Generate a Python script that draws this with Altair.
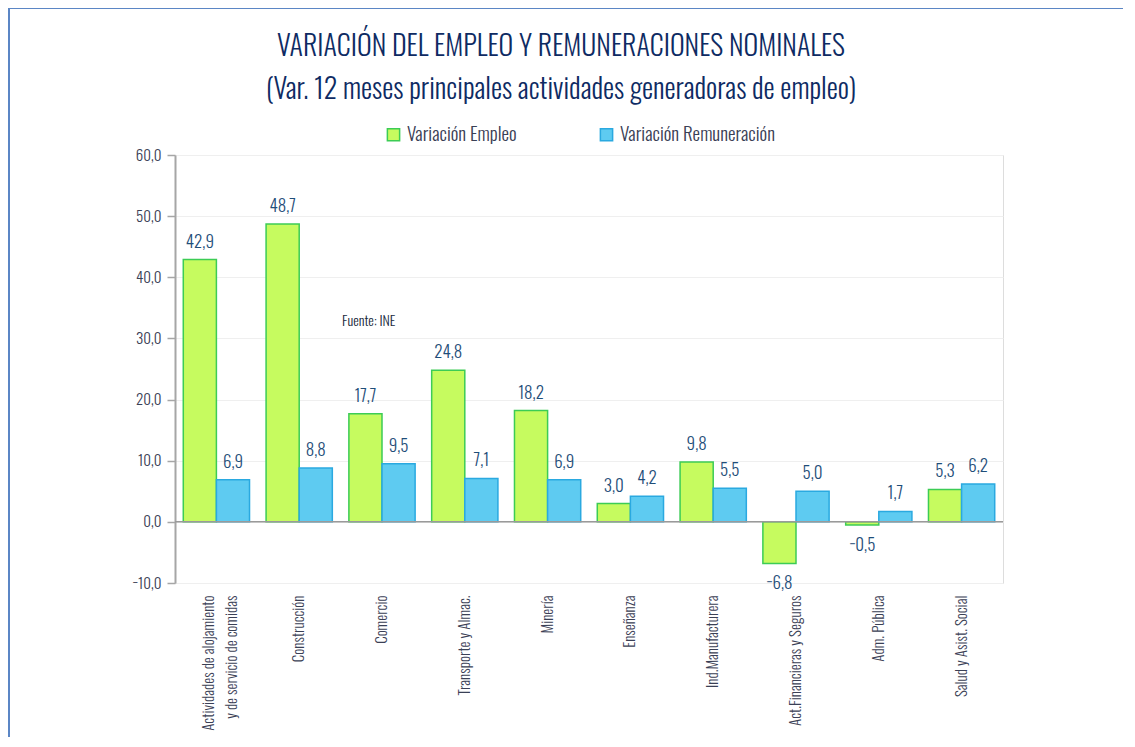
import altair as alt
import pandas as pd

categories = [
    "Actividades de alojamiento|y de servicio de comidas",
    "Construcción",
    "Comercio",
    "Transporte y Almac.",
    "Minería",
    "Enseñanza",
    "Ind.Manufacturera",
    "Act.Financieras y Seguros",
    "Adm. Pública",
    "Salud y Asist. Social",
]
empleo = [42.9, 48.7, 17.7, 24.8, 18.2, 3.0, 9.8, -6.8, -0.5, 5.3]
remuneracion = [6.9, 8.8, 9.5, 7.1, 6.9, 4.2, 5.5, 5.0, 1.7, 6.2]
series = ["Variación Empleo", "Variación Remuneración"]

rows = []
for c, e, r in zip(categories, empleo, remuneracion):
    rows.append({"cat": c, "serie": series[0], "valor": e})
    rows.append({"cat": c, "serie": series[1], "valor": r})
df = pd.DataFrame(rows)

FONT = "Oswald"
FW = 300
W, H = 828, 428

base = alt.Chart(df).transform_calculate(
    lab="replace(format(datum.valor, '.1f'), '.', ',')"
)

xenc = alt.X(
    "cat:N", sort=categories, title=None,
    scale=alt.Scale(paddingInner=0.2, paddingOuter=0.1),
    axis=alt.Axis(labelAngle=270, labelAlign="right", labelBaseline="middle",
                  labelExpr="split(datum.label, '|')", labelFontSize=15,
                  labelFontWeight=FW,
                  labelOffset={"condition": {"test": "indexof(datum.value, '|') >= 0", "value": -7},
                               "value": 0},
                  labelColor="#3a4055", labelFont=FONT, domain=False, ticks=False,
                  labelPadding=12, labelLimit=300, labelLineHeight=23, grid=False),
)
yenc = alt.Y(
    "valor:Q", title=None,
    scale=alt.Scale(domain=[-10, 60], nice=False, zero=False),
    axis=alt.Axis(values=list(range(-10, 61, 10)),
                  labelExpr="replace(format(datum.value, '.1f'), '.', ',')",
                  labelFontSize=15, labelFontWeight=FW, labelColor="#3a4055", labelFont=FONT,
                  domainColor="#a6a6a6", domainWidth=2, tickColor="#a6a6a6",
                  tickSize=8, tickWidth=1.5, labelPadding=6,
                  gridColor="#efefef", gridWidth=1),
)
color = alt.Color(
    "serie:N", sort=series,
    scale=alt.Scale(domain=series, range=["#c6fb5f", "#5ecbf1"]),
    legend=alt.Legend(title=None, orient="none", legendX=209, legendY=-30,
                      direction="horizontal", symbolType="square", symbolSize=150,
                      symbolStrokeWidth=1.5, labelFontSize=19, labelFont=FONT,
                      labelFontWeight=FW, labelLimit=400,
                      labelColor="#3a4055", columnPadding=80, symbolOffset=0),
)
strokec = alt.Stroke("serie:N", scale=alt.Scale(domain=series, range=["#3ccc55", "#2aa9e0"]),
                     legend=None)

bars = base.mark_bar(strokeWidth=1.5).encode(
    x=xenc, xOffset=alt.XOffset("serie:N", sort=series), y=yenc, color=color, stroke=strokec
)

pos = base.transform_filter("datum.valor >= 0").mark_text(
    dy=-8, baseline="bottom", fontSize=17, font=FONT, fontWeight=FW, color="#1f4e79"
).encode(x=alt.X("cat:N", sort=categories), xOffset=alt.XOffset("serie:N", sort=series),
         y="valor:Q", text="lab:N")
neg = base.transform_filter("datum.valor < 0").mark_text(
    dy=13, baseline="top", fontSize=17, font=FONT, fontWeight=FW, color="#1f4e79"
).encode(x=alt.X("cat:N", sort=categories), xOffset=alt.XOffset("serie:N", sort=series),
         y="valor:Q", text="lab:N")

zero = alt.Chart(pd.DataFrame({"v": [0]})).mark_rule(color="#9a9a9a", strokeWidth=1.5).encode(
    y="v:Q"
)

one = pd.DataFrame({"t": ["Fuente: INE"]})
fuente = alt.Chart(one).mark_text(
    align="left", baseline="middle", fontSize=14, font=FONT, fontWeight=FW, color="#1a2a40"
).encode(x=alt.value(167), y=alt.value(167), text="t:N")

border = alt.Chart(one).mark_rect(
    fill=None, stroke="#5b86c5", strokeWidth=2, clip=False
).encode(x=alt.value(-166), x2=alt.value(1000), y=alt.value(-147), y2=alt.value(700))

chart = alt.layer(border, bars, zero, pos, neg, fuente).properties(
    width=W, height=H,
    padding={"left": 167, "top": 147, "right": 120, "bottom": 154},
    autosize=alt.AutoSizeParams(type="none"),
    title=alt.TitleParams(
        text=["VARIACIÓN DEL EMPLEO Y REMUNERACIONES NOMINALES",
              "(Var. 12 meses principales actividades generadoras de empleo)"],
        fontSize=28, font=FONT, fontWeight=FW, color="#0e2b63",
        anchor="middle", frame="group", dx=-28, lineHeight=43, offset=0, dy=98,
    ),
).configure_view(stroke=None).configure(background="white")

chart.save("out.html", embed_options={"renderer": "svg", "actions": False})
